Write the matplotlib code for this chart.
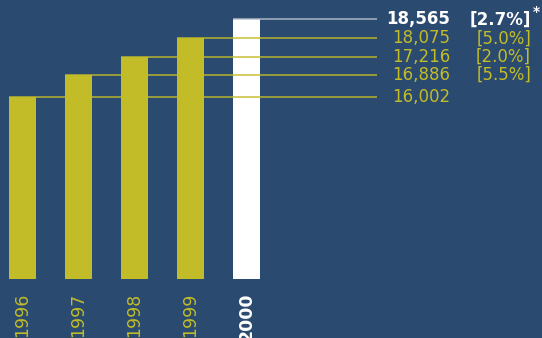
import matplotlib
matplotlib.use("Agg")
import matplotlib.pyplot as plt

# data
years = ["1996", "1997", "1998", "1999", "2000"]
values = [16002, 16886, 17216, 18075, 18565]
growth = [None, "[5.5%]", "[2.0%]", "[5.0%]", "[2.7%]"]
# bar heights as drawn (percent of the tallest bar)
bar_levels = [70.0, 78.5, 85.4, 92.7, 100.0]

bg = "#2B4A70"
yellow = "#C2BC28"
white = "#FFFFFF"

plt.rcParams['font.family'] = ['DejaVu Sans']

fig = plt.figure(figsize=(5.42, 3.38), dpi=100, facecolor=bg)
ax = fig.add_axes([0, 59 / 338, 1, 279 / 338])
ax.set_facecolor(bg)

n = len(years)
xs = list(range(n))
w = 27 / 56
cols = [yellow] * (n - 1) + [white]
ax.bar(xs, bar_levels, width=w, color=cols, zorder=2)

x_line_end = (377 - 22.5) / 56
x_val = (450 - 22.5) / 56
x_pct = (531 - 22.5) / 56

for i in xs:
    last = i == n - 1
    lc = "#B4BECC" if last else yellow
    ax.plot([i - w / 2, x_line_end], [bar_levels[i]] * 2, color=lc,
            lw=1.2, alpha=0.85, zorder=3, solid_capstyle="butt")
    tc = white if last else yellow
    fw = "bold" if last else "normal"
    ax.text(x_val, bar_levels[i], f"{values[i]:,}", color=tc, fontsize=12,
            fontweight=fw, ha="right", va="center")
    if growth[i]:
        ax.text(x_pct, bar_levels[i], growth[i], color=tc, fontsize=12,
                fontweight=fw, ha="right", va="center")

fig.text(533 / 542, 1 - 12 / 338, "*", color=white, fontsize=10,
         fontweight="bold", ha="left", va="center")

ax.set_xlim(-22.5 / 56, (542 - 22.5) / 56)
ax.set_ylim(0, 100 * 279 / 259.7)
ax.set_xticks(xs)
ax.set_xticklabels(years, rotation=90, fontsize=12.5)
for lab, c in zip(ax.get_xticklabels(), cols):
    lab.set_color(c)
ax.get_xticklabels()[-1].set_fontweight("bold")
ax.tick_params(axis="x", length=0, pad=10)
ax.set_yticks([])
for s in ax.spines.values():
    s.set_visible(False)

fig.savefig("out.png", dpi=100, facecolor=bg)
